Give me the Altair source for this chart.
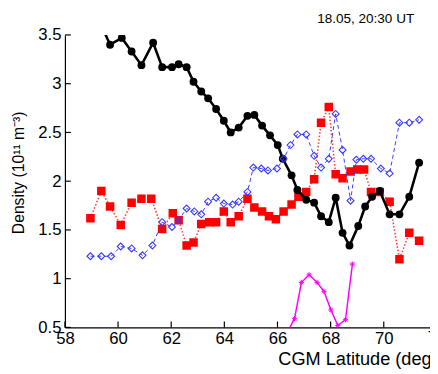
import altair as alt
import pandas as pd

# ---- data ----
black_lat = [59.45, 59.70, 60.14, 60.51, 60.88, 61.32, 61.66, 62.03, 62.28, 62.58,
             62.84, 63.13, 63.39, 63.69, 63.98, 64.24, 64.54, 64.87, 65.13, 65.42,
             65.72, 66.01, 66.20, 66.53, 66.75, 67.08, 67.38, 67.64, 67.93, 68.19,
             68.45, 68.71, 69.04, 69.30, 69.56, 69.85, 70.22, 70.59, 70.96, 71.33]
black_den = [3.55, 3.40, 3.47, 3.33, 3.19, 3.42, 3.17, 3.17, 3.20, 3.17,
             3.02, 2.92, 2.85, 2.74, 2.62, 2.50, 2.55, 2.67, 2.68, 2.57,
             2.47, 2.37, 2.23, 2.06, 1.91, 1.81, 1.78, 1.64, 1.58, 1.83,
             1.47, 1.34, 1.54, 1.74, 1.84, 1.90, 1.66, 1.66, 1.84, 2.19]

red_lat = [58.96, 59.37, 59.70, 60.10, 60.51, 60.88, 61.25, 61.66, 62.06, 62.28,
           62.58, 62.84, 63.13, 63.43, 63.69, 63.98, 64.24, 64.54, 64.87, 65.13,
           65.42, 65.68, 65.94, 66.23, 66.53, 66.79, 67.08, 67.38, 67.64, 67.93,
           68.19, 68.45, 68.75, 69.00, 69.26, 69.52, 69.85, 70.22, 70.59, 70.96,
           71.33]
red_den = [1.62, 1.90, 1.74, 1.55, 1.78, 1.82, 1.82, 1.51, 1.67, 1.60,
           1.34, 1.37, 1.56, 1.58, 1.58, 1.69, 1.58, 1.64, 1.82, 1.73,
           1.69, 1.64, 1.61, 1.69, 1.76, 1.84, 1.89, 2.02, 2.60, 2.76,
           2.07, 2.03, 2.10, 2.12, 2.12, 1.89, 1.89, 1.79, 1.20, 1.47,
           1.39]

blue_lat = [58.96, 59.37, 59.74, 60.10, 60.51, 60.92, 61.29, 61.66, 62.03, 62.28,
            62.58, 62.87, 63.13, 63.39, 63.69, 63.98, 64.31, 64.54, 64.87, 65.09,
            65.39, 65.64, 65.98, 66.23, 66.49, 66.75, 67.08, 67.38, 67.64, 67.93,
            68.19, 68.45, 68.75, 68.97, 69.23, 69.52, 69.89, 70.22, 70.59, 70.96,
            71.33]
blue_den = [1.23, 1.23, 1.23, 1.33, 1.31, 1.24, 1.34, 1.58, 1.53, 1.60,
            1.72, 1.69, 1.66, 1.79, 1.83, 1.77, 1.76, 1.79, 1.89, 2.14,
            2.13, 2.11, 2.13, 2.23, 2.37, 2.48, 2.48, 2.26, 2.14, 2.23,
            2.69, 2.32, 1.80, 2.22, 2.23, 2.23, 2.13, 2.08, 2.60, 2.60,
            2.63]

mag_lat = [66.35, 66.64, 66.90, 67.19, 67.49, 67.75, 68.01, 68.27, 68.56, 68.82]
mag_den = [0.44, 0.59, 0.96, 1.04, 0.96, 0.87, 0.68, 0.52, 0.58, 1.15]

x_ticks = [58, 60, 62, 64, 66, 68, 70]
x_cut_tick = [72]          # tick label that falls at the (cropped) right edge
y_ticks = [0.5, 1, 1.5, 2, 2.5, 3, 3.5]
x_domain = [58, 71.74]     # visible part of the axis
y_domain = [0.5, 3.5]
annotation = ["18.05, 20:30 UT"]


def frame(lat, den):
    return pd.DataFrame({"lat": lat, "den": den, "i": list(range(len(lat)))})


W, H = 372, 298
FONT = "Liberation Sans"
LABEL_FS = 17

xs = alt.Scale(domain=x_domain, nice=False, zero=False)
ys = alt.Scale(domain=y_domain, nice=False, zero=False)

x_axis = alt.Axis(values=x_ticks, title="CGM Latitude (deg)", ticks=False, tickSize=0,
                  grid=False, domainColor="#000", domainWidth=1.2,
                  labelFont=FONT, labelFontSize=LABEL_FS, labelColor="#000", labelPadding=3,
                  labelFlush=False, labelOverlap=False,
                  titleFont=FONT, titleFontSize=18.5, titleFontWeight="normal",
                  titleColor="#000", titleX=217, titleY=38, titleAlign="left",
                  titleBaseline="alphabetic")
y_axis = alt.Axis(values=y_ticks, title="Density (10¹¹ m⁻³)", ticks=False, tickSize=0,
                  grid=False, domainColor="#000", domainWidth=1.2,
                  labelFont=FONT, labelFontSize=LABEL_FS, labelColor="#000", labelPadding=4,
                  labelFlush=False, labelOverlap=False,
                  labelExpr="datum.value + ''",
                  titleFont=FONT, titleFontSize=16, titleFontWeight="normal",
                  titleColor="#000", titleX=-42, titleY=140, titleAngle=270,
                  titleAlign="center", titleBaseline="alphabetic")


def enc(chart):
    return chart.encode(
        x=alt.X("lat:Q", scale=xs, axis=x_axis),
        y=alt.Y("den:Q", scale=ys, axis=y_axis),
        order="i:Q",
    )


red_df = frame(red_lat, red_den)
black_df = frame(black_lat, black_den)
blue_df = frame(blue_lat, blue_den)
mag_df = frame(mag_lat, mag_den)

red_line = enc(alt.Chart(red_df).mark_line(color="#ff3b3b", strokeWidth=1.6,
                                           strokeDash=[1.5, 2], clip=True))
red_pts = enc(alt.Chart(red_df).mark_point(shape="square", filled=True, color="#ff0000",
                                           size=75, opacity=1, clip=True))
black_line = enc(alt.Chart(black_df).mark_line(color="#000000", strokeWidth=2.6, clip=True))
black_pts = enc(alt.Chart(black_df).mark_point(shape="circle", filled=True, color="#000000",
                                               size=64, opacity=1, clip=True))
blue_line = enc(alt.Chart(blue_df).mark_line(color="#3a3aff", strokeWidth=1,
                                             strokeDash=[4, 3], clip=True))
blue_pts = enc(alt.Chart(blue_df).mark_point(shape="diamond", filled=False, color="#3a3aff",
                                             size=50, strokeWidth=1.1, opacity=1, clip=True))
mag_line = enc(alt.Chart(mag_df).mark_line(color="#ff00ff", strokeWidth=1.5, clip=True))
mag_pts = enc(alt.Chart(mag_df).mark_point(
    shape="M-1,0L1,0M0,-1L0,1M-0.7,-0.7L0.7,0.7M-0.7,0.7L0.7,-0.7",
    filled=False, color="#ff00ff", size=28, strokeWidth=1, opacity=1, clip=True))

xtick_df = pd.DataFrame({"lat": x_ticks})
ytick_df = pd.DataFrame({"den": y_ticks})
x_tick_rules = alt.Chart(xtick_df).mark_rule(color="#000", strokeWidth=1.2).encode(
    x=alt.X("lat:Q", scale=xs, axis=x_axis), y=alt.value(H), y2=alt.value(H - 6))
y_tick_rules = alt.Chart(ytick_df).mark_rule(color="#000", strokeWidth=1.2).encode(
    y=alt.Y("den:Q", scale=ys, axis=y_axis), x=alt.value(0), x2=alt.value(6))

cut_label = alt.Chart(pd.DataFrame({"lat": x_cut_tick})).mark_text(
    align="center", baseline="top", font=FONT, fontSize=LABEL_FS, color="#000").encode(
    x=alt.X("lat:Q", scale=xs, axis=x_axis), y=alt.value(H + 3), text="lat:Q")

label = alt.Chart(pd.DataFrame({"t": annotation})).mark_text(
    align="left", baseline="middle", font=FONT, fontSize=13.8, color="#000").encode(
    text="t:N", x=alt.value(257), y=alt.value(-16))

chart = alt.layer(
    red_line, red_pts, black_line, black_pts, mag_line, mag_pts, blue_line, blue_pts,
    x_tick_rules, y_tick_rules, cut_label, label
).properties(
    width=W, height=H,
    autosize=alt.AutoSizeParams(type="none"),
    padding={"left": 58, "top": 24, "right": 0, "bottom": 44},
).configure_view(strokeWidth=0)

chart.save("out.html", embed_options={"renderer": "svg", "actions": False})
